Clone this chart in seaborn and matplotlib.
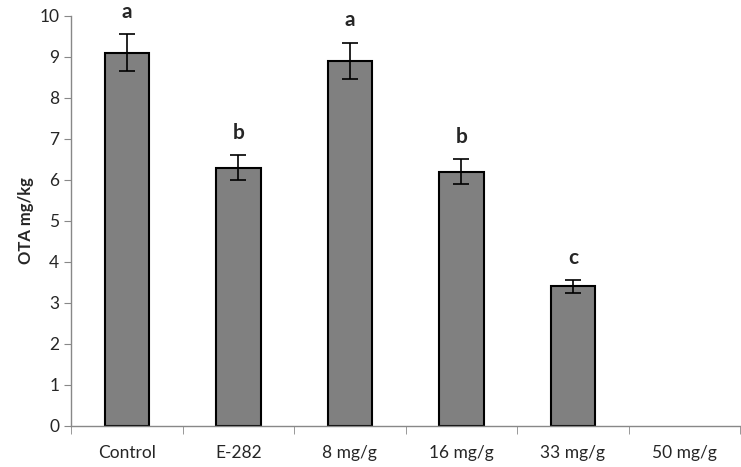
import pandas as pd
import numpy as np
import matplotlib
matplotlib.use("Agg")
import matplotlib.pyplot as plt
import seaborn as sns

# Chart data
treatments = ["Control", "E-282", "8 mg/g", "16 mg/g", "33 mg/g", "50 mg/g"]
ota_values = [9.1, 6.3, 8.9, 6.2, 3.4, 0.0]
ota_errors = [0.45, 0.31, 0.45, 0.31, 0.16, 0.0]
group_letters = ["a", "b", "a", "b", "c", ""]

df = pd.DataFrame({"treatment": treatments, "ota": ota_values, "err": ota_errors})

sns.set_style("white")
plt.rcParams["font.family"] = ["Lato", "DejaVu Sans"]

fig = plt.figure(figsize=(7.41, 4.67), dpi=100)
ax = fig.add_axes([0.096, 0.088, 0.903, 0.878])

sns.barplot(
    data=df,
    x="treatment",
    y="ota",
    color="#808080",
    saturation=1,
    edgecolor="black",
    linewidth=1.5,
    width=0.4,
    errorbar=None,
    ax=ax,
)

# empty bar shouldn't show its outline
for p in ax.patches:
    if p.get_height() == 0:
        p.set_linewidth(0)

# Error bars (only where there is one) and significance letters
pos = np.arange(len(treatments))
has_err = df["err"] > 0
ax.errorbar(
    pos[has_err],
    df.loc[has_err, "ota"],
    yerr=df.loc[has_err, "err"],
    fmt="none",
    ecolor="black",
    elinewidth=1.2,
    capsize=6,
    capthick=1.2,
)
for i, (v, e, lab) in enumerate(zip(ota_values, ota_errors, group_letters)):
    if lab:
        ax.text(i, v + e + 0.3, lab, ha="center", va="bottom",
                fontsize=15, fontweight="bold")

ax.set_ylim(0, 10)
ax.set_xlim(-0.5, len(treatments) - 0.5)
ax.set_yticks(np.arange(0, 11, 1))
ax.set_xlabel("")
ax.set_ylabel("OTA mg/kg", fontsize=12, fontweight="bold")

# Tick marks between categories like the original
ax.set_xticks(np.arange(-0.5, len(treatments), 1), minor=True)
ax.tick_params(axis="x", which="major", length=0, labelsize=12.5, pad=14)
ax.tick_params(axis="x", which="minor", length=6, color="#888888", direction="out", bottom=True)
ax.tick_params(axis="y", length=5, color="#888888", direction="out", left=True, labelsize=12.5)

sns.despine(ax=ax)
for side in ["left", "bottom"]:
    ax.spines[side].set_color("#888888")
    ax.spines[side].set_linewidth(1)

plt.savefig("out.png", dpi=100)
